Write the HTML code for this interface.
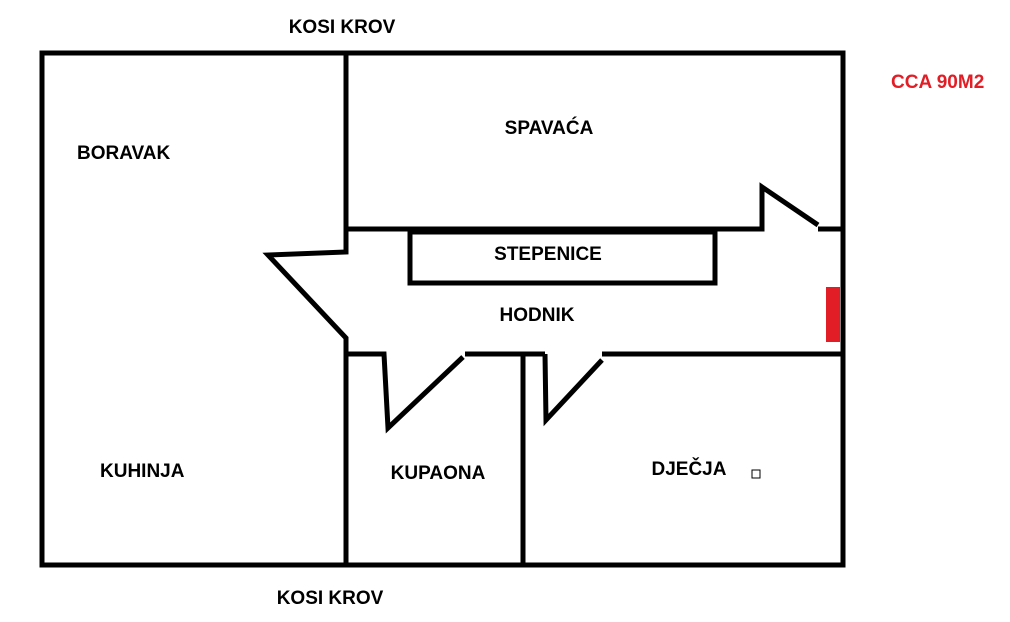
<!DOCTYPE html>
<html><head><style>
body{margin:0;background:#fff;}
svg text{font-family:"Liberation Sans",sans-serif;font-weight:bold;font-size:19px;fill:#000;}
</style></head><body>
<svg width="1010" height="617" viewBox="0 0 1010 617" xmlns="http://www.w3.org/2000/svg">
<g stroke="#000" stroke-width="5" fill="none" stroke-linejoin="miter">
<rect x="42" y="53" width="801" height="512"/>
<polyline points="346,53 346,252 268,255 346,338 346,565"/>
<polyline points="346,229 762,229 762,187 818,225"/>
<line x1="818" y1="229" x2="843" y2="229"/>
<rect x="410" y="232" width="305" height="51"/>
<polyline points="346,354 384,354 388,428 463,357"/>
<line x1="465" y1="354" x2="545" y2="354"/>
<polyline points="545,354 546,420 602,360"/>
<line x1="602" y1="354" x2="843" y2="354"/>
<line x1="523" y1="354" x2="523" y2="565"/>
</g>
<rect x="826" y="287" width="14" height="55" fill="#e21d26"/>
<rect x="752" y="470" width="8" height="8" fill="none" stroke="#000" stroke-width="1"/>
<text x="342" y="33" text-anchor="middle">KOSI KROV</text>
<text x="330" y="604" text-anchor="middle">KOSI KROV</text>
<text x="891" y="88" style="fill:#e21d26">CCA 90M2</text>
<text x="77" y="159">BORAVAK</text>
<text x="549" y="134" text-anchor="middle">SPAVAĆA</text>
<text x="548" y="260" text-anchor="middle">STEPENICE</text>
<text x="537" y="321" text-anchor="middle">HODNIK</text>
<text x="100" y="477">KUHINJA</text>
<text x="438" y="479" text-anchor="middle">KUPAONA</text>
<text x="689" y="475" text-anchor="middle">DJEČJA</text>
</svg>
</body></html>
